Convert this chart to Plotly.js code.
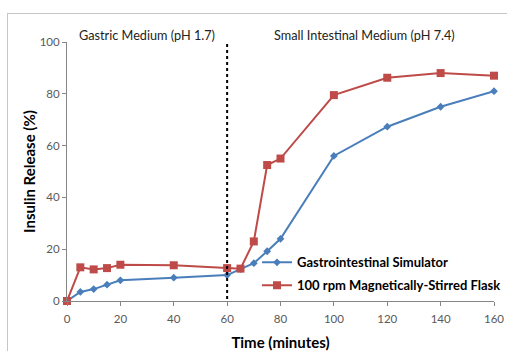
<!DOCTYPE html>
<html>
<head>
<meta charset="utf-8">
<script src="https://cdn.plot.ly/plotly-3.0.1.min.js"></script>
<style>
html,body{margin:0;padding:0;background:#fff;}
#frame{position:absolute;left:7px;top:13px;width:520px;height:360px;border-left:1px solid #c6c6c6;border-top:1px solid #c6c6c6;}
#chart{position:absolute;left:0;top:0;width:507px;height:351px;}
</style>
</head>
<body>
<div id="frame"></div>
<div id="chart"></div>
<script>
const time = [0, 5, 10, 15, 20, 40, 60, 65, 70, 75, 80, 100, 120, 140, 160];
const giSimulator = [0, 3.5, 4.6, 6.3, 8.0, 9.0, 10.0, 12.3, 14.6, 19.2, 24.0, 56.0, 67.3, 75.0, 81.0];
const stirredFlask = [0, 13.0, 12.2, 12.7, 14.0, 13.8, 12.7, 12.5, 23.0, 52.5, 55.0, 79.5, 86.2, 88.0, 87.0];
const seriesNames = ["Gastrointestinal Simulator", "100 rpm Magnetically-Stirred Flask"];
const xTicks = [0, 20, 40, 60, 80, 100, 120, 140, 160];
const yTicks = [0, 20, 40, 60, 80, 100];
const phaseBoundary = 60;
const phaseLabels = ["Gastric Medium (pH 1.7)", "Small Intestinal Medium (pH 7.4)"];

const font = "Lato, 'Open Sans', sans-serif";

const traces = [
  {x: time, y: giSimulator, name: seriesNames[0], legendgroup: 'g1', type: 'scatter', mode: 'lines+markers',
   line: {color: '#4a7ebb', width: 2}, marker: {symbol: 'diamond', size: 6, color: '#4a7ebb'}, cliponaxis: false},
  {x: time, y: stirredFlask, name: seriesNames[1], legendgroup: 'g2', type: 'scatter', mode: 'lines+markers',
   line: {color: '#be4b48', width: 2}, marker: {symbol: 'square', size: 8, color: '#be4b48'}, cliponaxis: false}
];

const layout = {
  width: 507, height: 351,
  margin: {l: 67, r: 13, t: 42, b: 50, autoexpand: false},
  paper_bgcolor: 'rgba(0,0,0,0)', plot_bgcolor: 'rgba(0,0,0,0)',
  font: {family: font, color: '#595959', size: 11},
  showlegend: true,
  legend: {x: 0.445, y: 0.207, xanchor: 'left', yanchor: 'top', bgcolor: 'rgba(0,0,0,0)', traceorder: 'grouped',
           font: {family: font, size: 13, color: '#000', weight: 'bold'}, tracegroupgap: 3},
  xaxis: {range: [0, 160], tickvals: xTicks, ticktext: xTicks.map(String), showgrid: false, zeroline: false,
          showline: true, linecolor: '#868686', linewidth: 1, ticks: 'outside', ticklen: 4, tickcolor: '#868686',
          tickfont: {size: 11.5, color: '#595959'}, ticklabelstandoff: 3,
          title: {text: 'Time (minutes)', font: {size: 15, color: '#000', weight: 'bold'}, standoff: 14}},
  yaxis: {range: [0, 100], tickvals: yTicks, ticktext: yTicks.map(String), showgrid: false, zeroline: false,
          showline: true, linecolor: '#868686', linewidth: 1, ticks: 'outside', ticklen: 4, tickcolor: '#868686',
          tickfont: {size: 11.5, color: '#595959'},
          title: {text: 'Insulin Release (%)', font: {size: 15, color: '#000', weight: 'bold'}, standoff: 0}},
  shapes: [
    {type: 'line', xref: 'x', yref: 'y', x0: phaseBoundary, x1: phaseBoundary, y0: -1.5, y1: 101.5,
     line: {color: '#000', width: 2, dash: 'dot'}}
  ],
  annotations: [
    {text: phaseLabels[0], xref: 'x', yref: 'paper', x: 29.9, y: 1.027, xanchor: 'center', yanchor: 'middle',
     showarrow: false, font: {size: 12.7, color: '#222'}},
    {text: phaseLabels[1], xref: 'x', yref: 'paper', x: 111.5, y: 1.027, xanchor: 'center', yanchor: 'middle',
     showarrow: false, font: {size: 12.7, color: '#222'}}
  ]
};

Plotly.newPlot('chart', traces, layout, {displayModeBar: false, staticPlot: true});
</script>
</body>
</html>
